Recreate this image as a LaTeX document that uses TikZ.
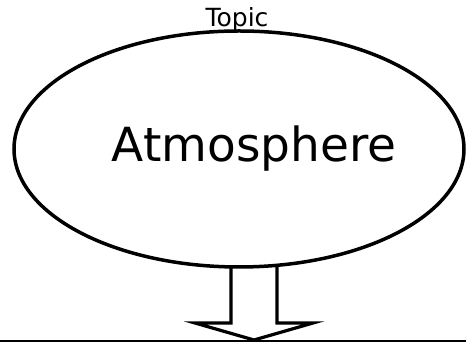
\documentclass[tikz,border=0pt]{standalone}
\usepackage{fontspec}
\setmainfont{DejaVu Sans}
\usetikzlibrary{shapes.geometric, positioning}
\tikzset{
  sujet/.style={ellipse, draw=black, line width=3.5pt, fill=white,
    minimum width=450pt, minimum height=236pt, inner sep=0pt},
  titre/.style={font=\fontsize{47}{50}\selectfont, anchor=base, inner sep=0pt},
  entete/.style={font=\fontsize{25}{28}\selectfont, anchor=base, inner sep=0pt},
  grossefleche/.style={draw=black, line width=3.2pt, fill=white},
  sol/.style={line width=2.7pt}
}
\begin{document}
\begin{tikzpicture}[x=1pt, y=1pt]
  \useasboundingbox (0,0) rectangle (466,344);
  \coordinate (g) at (0,3);
  \coordinate (d) at (466,3);

  \draw[grossefleche] (231,90) -- (231,21) -- (195,21) -- (254,4) -- (313,21) -- (277,21) -- (277,90);
  \node[sujet] (atmo) at (239,195) {};
  \node[titre] (nom) at (254,182) {Atmosphere};
  \node[entete] (topic) at (237,317) {Topic};

  \draw[sol] (g) -- (d);
\end{tikzpicture}
\end{document}
